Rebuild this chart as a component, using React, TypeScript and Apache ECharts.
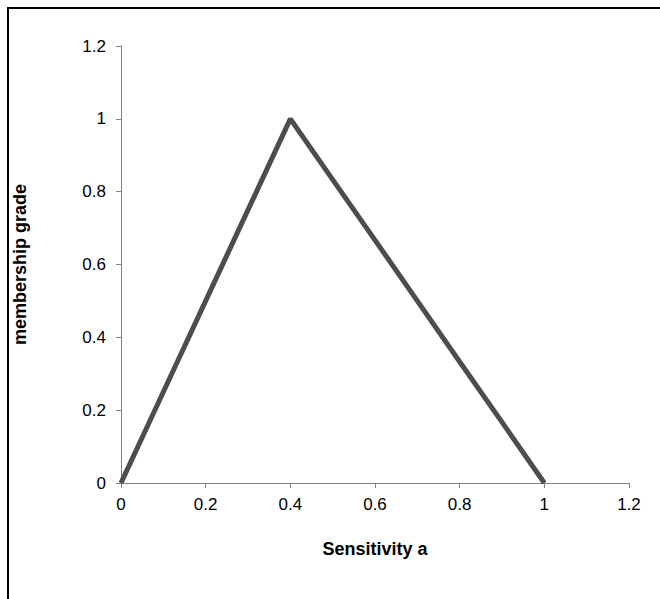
import React, { useEffect, useRef } from "react";
import * as echarts from "echarts";

const sensitivity = [0, 0.05, 0.1, 0.2, 0.25, 0.3, 0.4, 0.5, 0.55, 0.6, 0.7, 0.8, 0.9, 1];
const membership = [0, 0.125, 0.25, 0.5, 0.625, 0.75, 1, 0.833, 0.75, 0.667, 0.5, 0.333, 0.167, 0];
const xTitle = "Sensitivity a";
const yTitle = "membership grade";

export default function App() {
  const ref = useRef<HTMLDivElement>(null);
  useEffect(() => {
    if (!ref.current) return;
    const chart = echarts.init(ref.current, null, { renderer: "svg" });
    const font = "'Liberation Sans', Arial, sans-serif";
    chart.setOption({
      animation: false,
      backgroundColor: "#ffffff",
      grid: { left: 121, top: 46, width: 508, height: 437, containLabel: false, outerBoundsMode: "none" },
      xAxis: {
        type: "value",
        min: 0,
        max: 1.2,
        interval: 0.2,
        name: xTitle,
        nameLocation: "middle",
        nameGap: 57,
        nameTextStyle: { fontFamily: font, fontSize: 18, fontWeight: "bold", color: "#000" },
        axisLine: { show: true, lineStyle: { color: "#808080", width: 1 } },
        axisTick: { show: true, inside: false, length: 5, lineStyle: { color: "#808080" } },
        axisLabel: { fontFamily: font, fontSize: 17, color: "#000", margin: 13 },
        splitLine: { show: false },
      },
      yAxis: {
        type: "value",
        min: 0,
        max: 1.2,
        interval: 0.2,
        name: yTitle,
        nameLocation: "middle",
        nameGap: 92,
        nameRotate: 90,
        nameTextStyle: { fontFamily: font, fontSize: 18, fontWeight: "bold", color: "#000" },
        axisLine: { show: true, lineStyle: { color: "#808080", width: 1 } },
        axisTick: { show: true, inside: false, length: 5, lineStyle: { color: "#808080" } },
        axisLabel: { fontFamily: font, fontSize: 17, color: "#000", margin: 15 },
        splitLine: { show: false },
      },
      graphic: [
        {
          type: "rect",
          shape: { x: 8, y: 8, width: 800, height: 800 },
          style: { fill: "none", stroke: "#000", lineWidth: 2 },
          silent: true,
        },
      ],
      series: [
        {
          type: "line",
          data: sensitivity.map((x, i) => [x, membership[i]]),
          showSymbol: false,
          lineStyle: { color: "#4d4d4d", width: 5 },
          itemStyle: { color: "#4d4d4d" },
        },
      ],
    });
    return () => chart.dispose();
  }, []);
  return (
    <div
      ref={ref}
      style={{ position: "fixed", left: 0, top: 0, width: 660, height: 599 }}
    />
  );
}
